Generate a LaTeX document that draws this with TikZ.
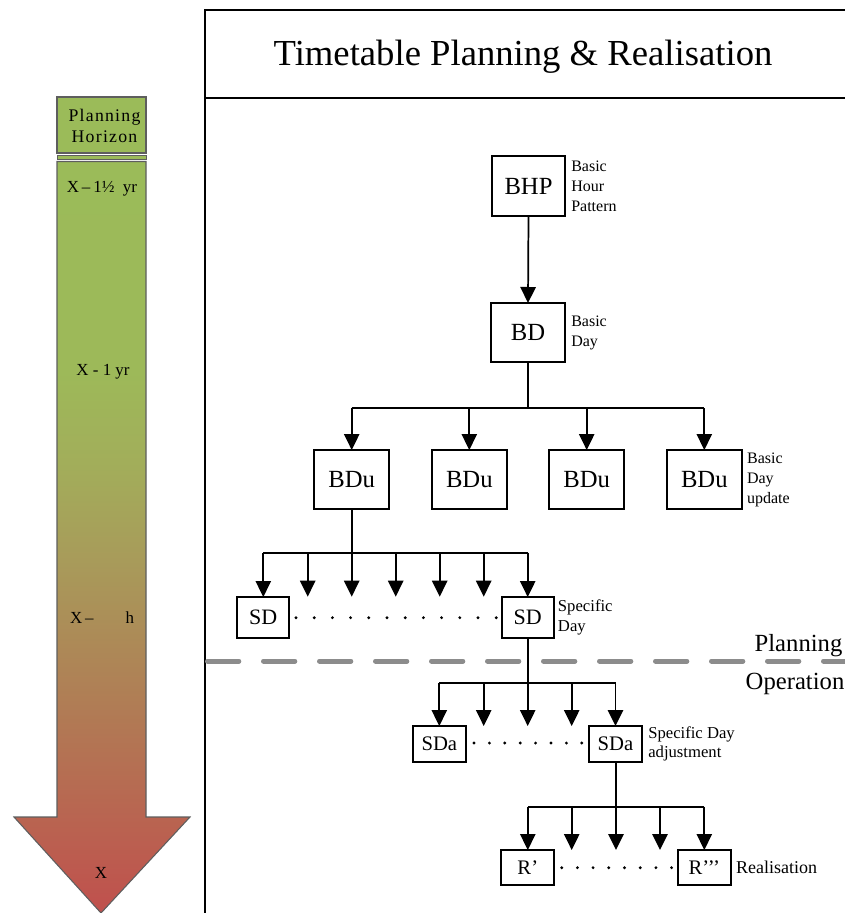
\documentclass[tikz,border=0pt]{standalone}
\usepackage{fontspec}
\setmainfont{Liberation Serif}
\newfontfamily\spacedserif[LetterSpace=7]{Liberation Serif}
\usetikzlibrary{arrows.meta}

% one unit = one pixel of the drawing
\newdimen\pxu \pxu=0.75pt

\definecolor{hzgreen}{HTML}{9BBB59}
\definecolor{hzE}{HTML}{9DB959}
\definecolor{hzD}{HTML}{A2AE5A}
\definecolor{hzC}{HTML}{A89B5A}
\definecolor{hzB}{HTML}{B07D55}
\definecolor{hzred}{HTML}{C0504D}
\definecolor{hzedge}{HTML}{5E5E5E}
\definecolor{sepgray}{HTML}{8C8C8C}

% green at the top of the horizon arrow, red at its point
\pgfdeclareverticalshading{horizonshade}{100bp}{%
  color(0bp)=(hzred); color(25bp)=(hzred); color(39bp)=(hzB);
  color(48.5bp)=(hzC); color(55bp)=(hzD); color(61bp)=(hzE);
  color(75bp)=(hzgreen); color(100bp)=(hzgreen)}

\tikzset{
  box/.style 2 args={draw, line width=1.3pt, inner sep=0pt, outer sep=0pt,
    minimum width=#1\pxu, minimum height=#2\pxu},
  big/.style={font=\fontsize{18.5}{20}\selectfont},
  mid/.style={font=\fontsize{16.5}{18}\selectfont},
  small/.style={font=\fontsize{15.5}{17}\selectfont},
  lbl/.style={anchor=west, align=left, inner sep=0pt,
    font=\fontsize{12}{15}\selectfont},
  link/.style={line width=1.3pt},
  feed/.style={link, -{Triangle[length=12pt,width=11.5pt]}},
  frame/.style={line width=1.5pt},
  leftlbl/.style={font=\fontsize{12.7}{14}\selectfont, inner sep=0pt},
  dotmark/.style={fill=black},
}

\begin{document}
\begin{tikzpicture}[x=0.75pt, y=-0.75pt]
\useasboundingbox (0,0) rectangle (845,913);

% ---------------- planning horizon arrow ----------------
\fill[hzgreen] (57,97) rectangle (146,153);
\draw[hzedge, line width=1pt] (57,97) rectangle (146,153);
\fill[hzgreen] (57,155.5) rectangle (146,159.5);
\draw[hzedge, line width=0.6pt] (57,155.5) rectangle (146,159.5);
\shade[shading=horizonshade]
  (57,161.5) -- (146,161.5) -- (146,817) -- (190,817) -- (101,913)
  -- (14,817) -- (57,817) -- cycle;
\draw[hzedge, line width=0.8pt]
  (57,161.5) -- (146,161.5) -- (146,817) -- (190,817) -- (101,913)
  -- (14,817) -- (57,817) -- cycle;

\node[align=center, inner sep=0pt, font=\spacedserif\fontsize{13.3}{15.5}\selectfont]
  (hzhead) at (104.5,126) {Planning\\Horizon};
\node[leftlbl] (hz1) at (102,189) {X\,–\,1½\ \ yr};
\node[leftlbl] (hz2) at (103,372) {X - 1 yr};
\node[leftlbl] (hz3) at (102,618) {X\,–\hspace{24pt}h};
\node[leftlbl] (hz4) at (101,873) {X};

% ---------------- frame and title ----------------
\draw[frame] (205,913) -- (205,10) -- (845,10);
\draw[frame] (205,98) -- (845,98);
\node[inner sep=0pt, font=\fontsize{27.5}{32}\selectfont] (title) at (523,57)
  {Timetable Planning \& Realisation};

% planning / operation divide
\draw[sepgray, line width=3.75pt, line cap=round,
      dash pattern=on 23.5pt off 18.5pt] (207.5,661) -- (845,661);
\node[inner sep=0pt, font=\fontsize{18.5}{20}\selectfont] (plan) at (798.5,646) {Planning};
\node[inner sep=0pt, font=\fontsize{18.5}{20}\selectfont] (oper) at (795,684) {Operation};

% ---------------- basic hour pattern and basic day ----------------
\node[box={73}{60}, big] (BHP) at (528.5,186) {BHP};
\node[box={74}{59}, big] (BD) at (528,332.5) {BD};
\draw[feed] (BHP.south) -- (BD.north);
\node[lbl] (BHPl) at ([xshift=6\pxu]BHP.east) {Basic\\Hour\\Pattern};
\node[lbl] (BDl) at ([xshift=6\pxu]BD.east) {Basic\\Day};

% basic day updates
\foreach \i/\x in {1/351.7, 2/469.3, 3/586.7, 4/704.3}
  \node[box={75}{59}, big] (BDu\i) at (\x,479.5) {BDu};
\node[lbl] (BDul) at ([xshift=5\pxu]BDu4.east) {Basic\\Day\\update};
\coordinate (busA) at (528,408);
\draw[link] (BD.south) -- (busA);
\draw[link] (BDu1.north |- busA) -- (BDu4.north |- busA);
\foreach \i in {1,...,4}
  \draw[feed] (BDu\i.north |- busA) -- (BDu\i.north);

% ---------------- specific days ----------------
\node[box={52}{41}, mid] (SD1) at (263.3,617.5) {SD};
\node[box={52}{41}, mid] (SD2) at (527.7,617.5) {SD};
\node[lbl, font=\fontsize{12.5}{15.5}\selectfont] (SDl) at ([xshift=4\pxu]SD2.east) {Specific\\Day};
\coordinate (busB) at (351.7,552.7);
\draw[link] (BDu1.south) -- (busB);
\draw[link] (SD1.north |- busB) -- (SD2.north |- busB);
\draw[feed] (SD1.north |- busB) -- (SD1.north);
\draw[feed] (SD2.north |- busB) -- (SD2.north);
\foreach \x [count=\k] in {307.7, 351.7, 395.7, 439.7, 483.7} {
  \coordinate (sdtip\k) at (\x,596.7);
  \draw[feed] (sdtip\k |- busB) -- (sdtip\k);
}
\foreach \k in {0,...,11}
  \fill[dotmark] (296+\k*18.2,617.7) circle (1.2pt);

% ---------------- specific day adjustments ----------------
\node[box={53}{36}, small] (SDa1) at (439.3,744) {SDa};
\node[box={53}{36}, small] (SDa2) at (615.5,744) {SDa};
\node[lbl, font=\fontsize{12.5}{14.5}\selectfont] (SDal) at ([xshift=6\pxu]SDa2.east) {Specific Day\\adjustment};
\coordinate (busC) at (527.7,682.7);
\draw[link] (SD2.south) -- (busC);
\draw[link] (SDa1.north |- busC) -- (SDa2.north |- busC);
\draw[feed] (SDa1.north |- busC) -- (SDa1.north);
\draw[feed] (SDa2.north |- busC) -- (SDa2.north);
\foreach \x [count=\k] in {483.7, 527.7, 571.7} {
  \coordinate (satip\k) at (\x,726);
  \draw[feed] (satip\k |- busC) -- (satip\k);
}
\foreach \k in {0,...,7}
  \fill[dotmark] (474+\k*15.4,743) circle (1.2pt);

% ---------------- realisation ----------------
\node[box={53}{35}, small] (R1) at (527.8,867.5) {R’};
\node[box={53}{35}, small] (R2) at (704.3,867.5) {R’’’};
\node[lbl, font=\fontsize{13.5}{15}\selectfont] (Rl) at ([xshift=5\pxu]R2.east) {Realisation};
\coordinate (busD) at (615.8,806.7);
\draw[link] (SDa2.south -| busD) -- (busD);
\draw[link] (R1.north |- busD) -- (R2.north |- busD);
\draw[feed] (R1.north |- busD) -- (R1.north);
\draw[feed] (R2.north |- busD) -- (R2.north);
\foreach \x [count=\k] in {571.7, 616, 660} {
  \coordinate (rtip\k) at (\x,850);
  \draw[feed] (rtip\k |- busD) -- (rtip\k);
}
\foreach \k in {0,...,7}
  \fill[dotmark] (561.7+\k*15.7,867.7) circle (1.2pt);
\end{tikzpicture}
\end{document}
